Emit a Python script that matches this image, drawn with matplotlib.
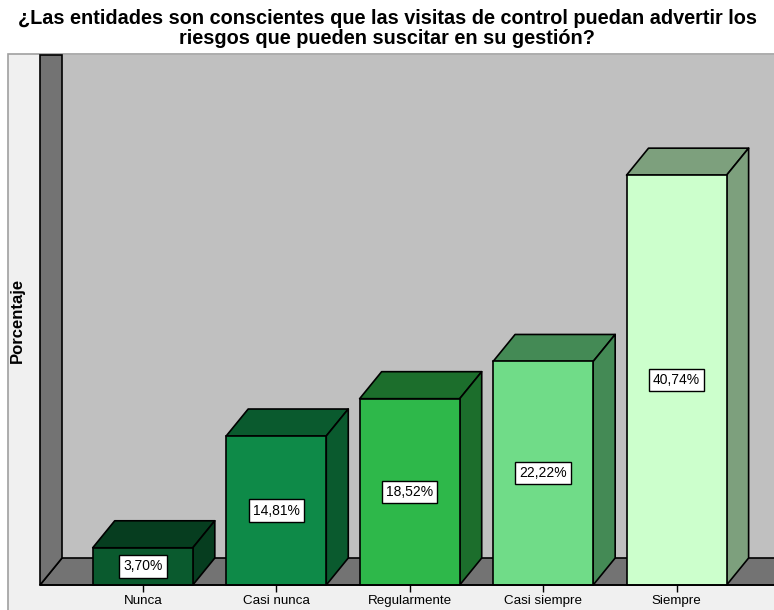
import matplotlib
matplotlib.use("Agg")
import matplotlib.pyplot as plt
from matplotlib.patches import Polygon, Rectangle

categories = ["Nunca", "Casi nunca", "Regularmente", "Casi siempre", "Siempre"]
values = [3.70, 14.81, 18.52, 22.22, 40.74]
value_labels = ["3,70%", "14,81%", "18,52%", "22,22%", "40,74%"]
front_colors = ["#0a5a2e", "#0e8a48", "#2eb84a", "#70dc88", "#ccffcc"]
shade_colors = ["#063d1f", "#0a5a2e", "#1c6e2c", "#448a55", "#7da07d"]
title = "¿Las entidades son conscientes que las visitas de control puedan advertir los\nriesgos que pueden suscitar en su gestión?"
ylabel = "Porcentaje"

plt.rcParams['font.family'] = ['Liberation Sans', 'DejaVu Sans']

W, H = 774, 610
fig = plt.figure(figsize=(W / 100, H / 100), dpi=100)
fig.patch.set_facecolor("white")

# outer frame
fig.patches.append(Rectangle((8 / W, -0.01), 1.0, (H - 54) / H + 0.01,
                             transform=fig.transFigure, facecolor="#f0f0f0",
                             edgecolor="#a0a0a0", lw=1.2, zorder=-5))

ax_left, ax_right = 40, 774
ax_bottom, ax_top = 585, 82
ax = fig.add_axes([ax_left / W, (H - ax_bottom) / H, (ax_right - ax_left) / W,
                   (ax_bottom - ax_top) / H])
ax.set_zorder(1)
ax.set_facecolor("none")
xmin, xmax = -0.77, 4.73
ymin, ymax = 0, 50
ax.set_xlim(xmin, xmax)
ax.set_ylim(ymin, ymax)

px_x = (ax_right - ax_left) / (xmax - xmin)
px_y = (ax_bottom - ax_top) / (ymax - ymin)
dx = 22 / px_x
dy = 27 / px_y

# back wall
ax.add_patch(Polygon([(xmin + dx, dy), (xmax + dx + 1, dy), (xmax + dx + 1, ymax + dy),
                      (xmin + dx, ymax + dy)], closed=True, facecolor="#c0c0c0",
                     edgecolor="none", clip_on=False, zorder=1))
# floor
ax.add_patch(Polygon([(xmin, 0), (xmin + dx, dy), (xmax + dx + 1, dy), (xmax + 1, 0)],
                     closed=True, facecolor="#737373", edgecolor="black", lw=1.2,
                     clip_on=False, zorder=2))
# left wall
ax.add_patch(Polygon([(xmin, 0), (xmin + dx, dy), (xmin + dx, ymax + dy), (xmin, ymax + dy)],
                     closed=True, facecolor="#737373", edgecolor="black", lw=1.2,
                     clip_on=False, zorder=2))

width = 0.75
for i, (v, fc, sc, lab) in enumerate(zip(values, front_colors, shade_colors, value_labels)):
    x0, x1 = i - width / 2, i + width / 2
    # top face
    ax.add_patch(Polygon([(x0, v), (x0 + dx, v + dy), (x1 + dx, v + dy), (x1, v)],
                         closed=True, facecolor=sc, edgecolor="black", lw=1.2,
                         clip_on=False, zorder=3, joinstyle="round"))
    # side face
    ax.add_patch(Polygon([(x1, 0), (x1 + dx, dy), (x1 + dx, v + dy), (x1, v)],
                         closed=True, facecolor=sc, edgecolor="black", lw=1.2,
                         clip_on=False, zorder=3, joinstyle="round"))
    ax.bar(i, v, width=width, color=fc, edgecolor="black", lw=1.2, zorder=4,
           clip_on=False)
    ax.text(i, v / 2, lab, ha="center", va="center", fontsize=10, zorder=5,
            bbox=dict(boxstyle="square,pad=0.3", facecolor="white",
                      edgecolor="black", lw=1))

for s in ["left", "right", "top"]:
    ax.spines[s].set_visible(False)
ax.spines["bottom"].set_linewidth(1.2)
ax.spines["bottom"].set_zorder(6)
ax.set_xticks(range(len(categories)))
ax.set_xticklabels(categories, fontsize=9.6)
ax.tick_params(axis="x", length=5, width=1, pad=2.5)
ax.set_yticks([])
ax.set_ylabel(ylabel, fontsize=12, fontweight="bold")
ax.yaxis.set_label_coords((25 - ax_left) / (ax_right - ax_left),
                          (ax_bottom - 320) / (ax_bottom - ax_top))

fig.text(0.5, 1 - 28.5 / H, title, ha="center", va="center", fontsize=14.3,
         fontweight="bold", linespacing=1.0)

fig.savefig("out.png", dpi=100, facecolor=fig.get_facecolor())
